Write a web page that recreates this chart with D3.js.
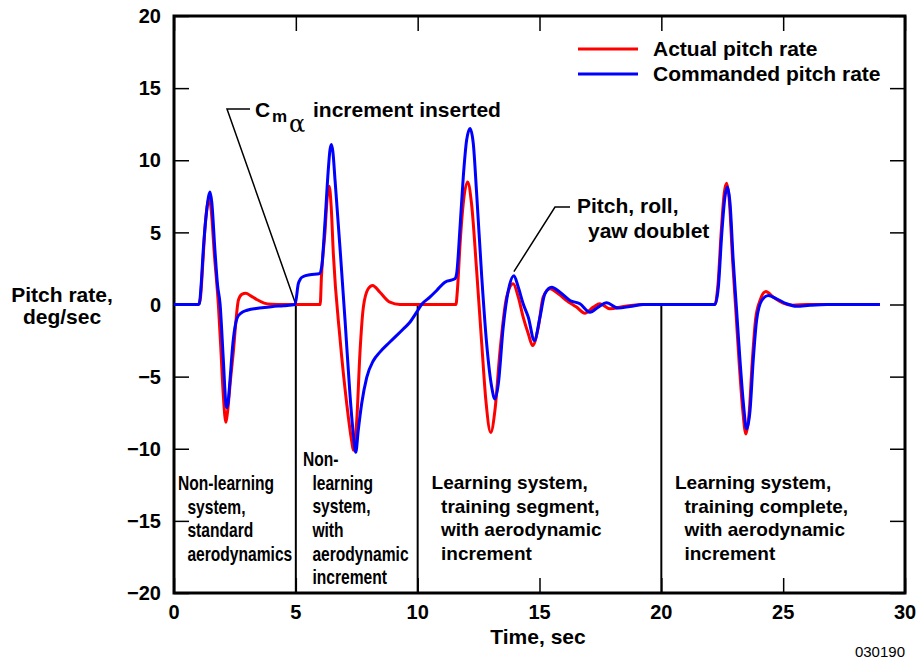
<!DOCTYPE html>
<html>
<head>
<meta charset="utf-8">
<script src="https://cdn.jsdelivr.net/npm/d3@7"></script>
<style>
  html, body { margin: 0; padding: 0; background: #fff; }
  svg { display: block; }
  text { font-family: "Liberation Sans", Arial, Helvetica, sans-serif; font-weight: bold; fill: #000; }
</style>
</head>
<body>
<svg id="chart" width="920" height="663"></svg>
<script>
// Time (s) and actual pitch rate (deg/s)
const actualTime = [0,1.0,1.08,1.18,1.28,1.38,1.45,1.53,1.65,1.82,1.92,2.02,2.13,2.2,2.32,2.44,2.55,2.64,2.78,2.95,3.15,3.39,3.7,4.0,4.5,
  6.0,6.05,6.2,6.29,6.37,6.45,6.54,6.81,7.09,7.29,7.36,7.5,7.63,7.77,7.97,8.15,8.45,8.86,9.27,
  11.57,11.63,11.74,11.87,12.05,12.21,12.42,12.63,12.8,13.0,13.17,13.38,13.65,13.92,14.13,14.33,14.54,14.72,14.95,15.15,15.43,15.77,16.11,16.52,16.86,17.21,17.48,17.89,18.44,19.26,
  22.2,22.32,22.46,22.58,22.68,22.79,22.92,23.06,23.2,23.34,23.47,23.6,23.73,23.87,24.05,24.29,24.6,25.0,25.4,26.0,28.97];
const actualRate = [0,0,0.4,2.8,5.5,7.0,7.35,6.5,3.6,0,-3.0,-6.2,-8.17,-7.4,-5.2,-3.2,-1.0,0.28,0.7,0.78,0.6,0.35,0.1,0.02,0,
  0,1.9,5.1,7.45,8.2,6.8,3.5,-2.3,-6.9,-9.45,-10.1,-8.05,-3.4,-0.2,1.09,1.32,0.85,0.16,0,
  0,0.97,4.2,7.0,8.5,7.0,2.36,-2.73,-6.67,-8.87,-7.36,-3.2,0.5,1.44,0.51,-0.88,-2.03,-2.85,-1.58,0.51,1.09,0.74,0.28,-0.18,-0.6,-0.18,0.05,-0.3,-0.14,0,
  0,1.3,5.1,7.7,8.4,7.2,3.2,-0.5,-4.2,-7.3,-8.98,-7.6,-4.0,-1.0,0.28,0.9,0.5,0.1,-0.05,0,0];

// Time (s) and commanded pitch rate (deg/s)
const commandTime = [0,1.0,1.04,1.12,1.2,1.34,1.42,1.48,1.55,1.68,1.79,1.89,2.02,2.13,2.17,2.22,2.3,2.4,2.5,2.6,2.75,3.0,3.5,4.0,4.5,4.97,
  5.1,5.2,5.31,5.58,5.96,6.06,6.2,6.33,6.4,6.46,6.52,6.61,6.81,7.02,7.22,7.36,7.46,7.56,7.7,7.91,8.18,8.45,8.86,9.41,9.68,9.96,
  10.16,10.5,10.78,11.12,11.53,11.6,11.74,11.87,12.01,12.15,12.28,12.42,12.63,12.83,13.04,13.17,13.31,13.51,13.72,13.95,14.13,14.33,14.54,14.79,15.02,15.22,15.5,15.84,16.25,16.66,17.07,17.41,17.75,18.23,18.71,19.26,
  22.2,22.34,22.48,22.61,22.71,22.82,22.95,23.09,23.23,23.37,23.5,23.64,23.77,23.91,24.12,24.39,24.73,25.14,25.55,26.1,26.8,28.97];
const commandRate = [0,0,0.05,1.5,3.75,6.5,7.5,7.8,7.1,3.75,1.3,0.05,-3.7,-6.9,-7.15,-6.8,-5.2,-3.0,-1.6,-0.9,-0.6,-0.4,-0.25,-0.15,-0.08,0,
  1.43,1.8,1.94,2.06,2.13,2.6,5.8,9.3,10.7,11.1,10.6,8.6,4.0,-1.1,-6.2,-9.0,-10.25,-8.75,-6.9,-5.05,-3.9,-3.3,-2.6,-1.7,-1.23,-0.53,
  0,0.51,0.97,1.55,1.78,2.13,5.4,8.8,11.4,12.2,11.2,7.7,1.9,-2.7,-5.74,-6.55,-5.5,-1.58,0.97,2.0,1.2,0.05,-0.88,-2.5,-0.88,0.74,1.2,0.85,0.28,0.05,-0.53,-0.18,0.12,-0.25,-0.14,0,
  0,1.2,4.9,7.45,8.15,7.0,3.06,-0.42,-3.9,-6.9,-8.63,-7.36,-3.9,-1.1,0.28,0.62,0.39,0.05,-0.12,-0.05,0,0];

const xTickValues = [0,5,10,15,20,25,30];
const xTickLabels = ["0","5","10","15","20","25","30"];
const yTickValues = [-20,-15,-10,-5,0,5,10,15,20];
const yTickLabels = ["\u221220","\u221215","\u221210","\u22125","0","5","10","15","20"];
const phaseBreaks = [5,10,20];
const phaseLabels = [
  {t:0.16, lines:["Non-learning","system,","standard","aerodynamics"], squeeze:0.78, size:20, first:490},
  {t:5.29, lines:["Non-","learning","system,","with","aerodynamic","increment"], squeeze:0.78, size:20, first:466},
  {t:10.57, lines:["Learning system,","training segment,","with aerodynamic","increment"], squeeze:1, size:19, first:489},
  {t:20.56, lines:["Learning system,","training complete,","with aerodynamic","increment"], squeeze:1, size:19, first:489}
];
const seriesNames = ["Actual pitch rate","Commanded pitch rate"];
const seriesColors = ["#ff0000","#0000ff"];

const svg = d3.select("#chart");
const plotLeft = 174, plotRight = 905, plotTop = 16, plotBottom = 593;
const x = d3.scaleLinear().domain([0,30]).range([plotLeft,plotRight]);
const y = d3.scaleLinear().domain([-20,20]).range([plotBottom,plotTop]);

// Phase divider lines from zero down to the bottom axis
svg.append("g").selectAll("line").data(phaseBreaks).join("line")
  .attr("x1", d=>x(d)).attr("x2", d=>x(d))
  .attr("y1", y(0)).attr("y2", y(-20))
  .attr("stroke","#000").attr("stroke-width",2);

// Axes: ticks point inward on all four sides
const tickLen = 15;
const axL = d3.axisRight(y).tickValues(yTickValues).tickSize(tickLen).tickFormat("");
const axR = d3.axisLeft(y).tickValues(yTickValues).tickSize(tickLen).tickFormat("");
const axT = d3.axisBottom(x).tickValues(xTickValues).tickSize(tickLen).tickFormat("");
const axB = d3.axisTop(x).tickValues(xTickValues).tickSize(tickLen).tickFormat("");
[[axL,`translate(${plotLeft},0)`],[axR,`translate(${plotRight},0)`],[axT,`translate(0,${plotTop})`],[axB,`translate(0,${plotBottom})`]].forEach(([a,t])=>{
  const g = svg.append("g").attr("transform",t).call(a);
  g.select(".domain").remove();
  g.selectAll(".tick line").attr("stroke","#000").attr("stroke-width",1.5);
});
svg.append("rect").attr("x",plotLeft).attr("y",plotTop).attr("width",plotRight-plotLeft).attr("height",plotBottom-plotTop)
  .attr("fill","none").attr("stroke","#000").attr("stroke-width",3);

// Tick labels
svg.append("g").selectAll("text").data(yTickValues).join("text")
  .attr("x",161).attr("y",d=>y(d)).attr("dy","0.36em").attr("text-anchor","end")
  .style("font-size","20px").text((d,i)=>yTickLabels[i]);
svg.append("g").selectAll("text").data(xTickValues).join("text")
  .attr("x",d=>x(d)).attr("y",619).attr("text-anchor","middle")
  .style("font-size","20px").text((d,i)=>xTickLabels[i]);

// Axis titles
svg.append("text").attr("x",538).attr("y",644).attr("text-anchor","middle").style("font-size","21px").text("Time, sec");
const yl = svg.append("text").attr("text-anchor","middle").style("font-size","21px");
yl.append("tspan").attr("x",62).attr("y",302).text("Pitch rate,");
yl.append("tspan").attr("x",62).attr("y",324).text("deg/sec");
svg.append("text").attr("x",905).attr("y",657).attr("text-anchor","end")
  .style("font-size","15px").style("font-weight","normal").text("030190");

// Phase descriptions (first line flush, following lines indented)
phaseLabels.forEach(p=>{
  const t = svg.append("text")
    .attr("transform",`translate(${x(p.t)},0) scale(${p.squeeze},1)`)
    .style("font-size",p.size+"px");
  p.lines.forEach((ln,i)=>{
    t.append("tspan").attr("x", i === 0 ? 0 : 9.5/p.squeeze).attr("y", p.first + i*23.7).text(ln);
  });
});

// Annotation leaders
svg.append("polyline").attr("points",[[250,109],[227,109],[x(5),y(0)]].join(" "))
  .attr("fill","none").attr("stroke","#000").attr("stroke-width",1.5);
svg.append("polyline").attr("points",[[570,207],[555,207],[x(13.95),y(2.0)-4]].join(" "))
  .attr("fill","none").attr("stroke","#000").attr("stroke-width",1.5);

svg.append("text").attr("x",255).attr("y",117).style("font-size","21px").text("C");
svg.append("text").attr("x",272).attr("y",122).style("font-size","17px").text("m");
svg.append("text").attr("x",289).attr("y",132)
  .style("font-family","'DejaVu Serif', 'Liberation Serif', serif").style("font-weight","normal").style("font-size","24px").text("\u03b1");
svg.append("text").attr("x",313).attr("y",117).style("font-size","21px").text("increment inserted");

const db = svg.append("text").style("font-size","21px");
db.append("tspan").attr("x",577).attr("y",213).text("Pitch, roll,");
db.append("tspan").attr("x",588).attr("y",238).text("yaw doublet");

// Data curves
const line = d3.line().x(d=>x(d[0])).y(d=>y(d[1])).curve(d3.curveMonotoneX);
const actual = actualTime.map((t,i)=>[t,actualRate[i]]);
const command = commandTime.map((t,i)=>[t,commandRate[i]]);
[[actual,seriesColors[0]],[command,seriesColors[1]]].forEach(([d,c])=>{
  svg.append("path").datum(d).attr("d",line).attr("fill","none")
    .attr("stroke",c).attr("stroke-width",3).attr("stroke-linejoin","round");
});

// Legend
const legY = [49,74];
seriesNames.forEach((n,i)=>{
  svg.append("line").attr("x1",578).attr("x2",638).attr("y1",legY[i]).attr("y2",legY[i])
    .attr("stroke",seriesColors[i]).attr("stroke-width",3);
  svg.append("text").attr("x",653).attr("y",legY[i]+7).style("font-size","21px").text(n);
});
</script>
</body>
</html>
